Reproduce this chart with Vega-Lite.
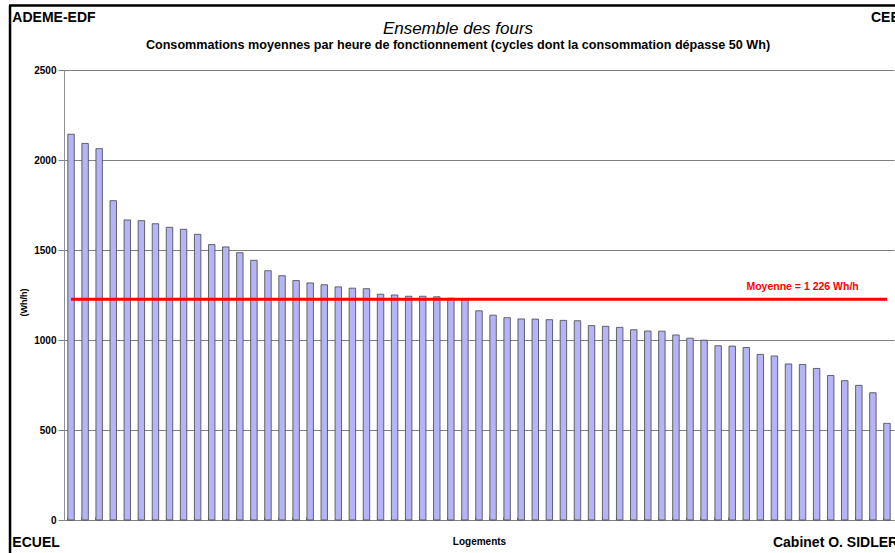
{
  "$schema": "https://vega.github.io/schema/vega-lite/v6.json",
  "width": 830,
  "height": 450,
  "autosize": {"type": "none"},
  "padding": {"left": 64, "top": 70, "right": 1, "bottom": 33},
  "background": "white",
  "config": {
    "view": {"stroke": null},
    "font": "Liberation Sans"
  },
  "title": {
    "text": "Ensemble des fours",
    "subtitle": "Consommations moyennes par heure de fonctionnement (cycles dont la consommation dépasse 50 Wh)",
    "anchor": "middle",
    "frame": "group",
    "dx": -21,
    "font": "Liberation Sans",
    "fontSize": 17,
    "fontStyle": "italic",
    "fontWeight": "normal",
    "color": "black",
    "subtitleFont": "Liberation Sans",
    "subtitleFontSize": 12.6,
    "subtitleFontWeight": "bold",
    "subtitleColor": "black",
    "subtitlePadding": 1,
    "offset": -48
  },
  "data": {
    "values": [
      {"logement": 1, "conso": 2143}, {"logement": 2, "conso": 2092}, {"logement": 3, "conso": 2063},
      {"logement": 4, "conso": 1774}, {"logement": 5, "conso": 1667}, {"logement": 6, "conso": 1663},
      {"logement": 7, "conso": 1646}, {"logement": 8, "conso": 1626}, {"logement": 9, "conso": 1615},
      {"logement": 10, "conso": 1587}, {"logement": 11, "conso": 1530}, {"logement": 12, "conso": 1517},
      {"logement": 13, "conso": 1485}, {"logement": 14, "conso": 1443}, {"logement": 15, "conso": 1385},
      {"logement": 16, "conso": 1357}, {"logement": 17, "conso": 1330}, {"logement": 18, "conso": 1317},
      {"logement": 19, "conso": 1307}, {"logement": 20, "conso": 1295}, {"logement": 21, "conso": 1288},
      {"logement": 22, "conso": 1285}, {"logement": 23, "conso": 1254}, {"logement": 24, "conso": 1250},
      {"logement": 25, "conso": 1243}, {"logement": 26, "conso": 1243}, {"logement": 27, "conso": 1240},
      {"logement": 28, "conso": 1232}, {"logement": 29, "conso": 1230}, {"logement": 30, "conso": 1162},
      {"logement": 31, "conso": 1138}, {"logement": 32, "conso": 1124}, {"logement": 33, "conso": 1117},
      {"logement": 34, "conso": 1116}, {"logement": 35, "conso": 1113}, {"logement": 36, "conso": 1109},
      {"logement": 37, "conso": 1107}, {"logement": 38, "conso": 1080}, {"logement": 39, "conso": 1076},
      {"logement": 40, "conso": 1070}, {"logement": 41, "conso": 1057}, {"logement": 42, "conso": 1050},
      {"logement": 43, "conso": 1049}, {"logement": 44, "conso": 1028}, {"logement": 45, "conso": 1010},
      {"logement": 46, "conso": 999}, {"logement": 47, "conso": 968}, {"logement": 48, "conso": 966},
      {"logement": 49, "conso": 958}, {"logement": 50, "conso": 920}, {"logement": 51, "conso": 911},
      {"logement": 52, "conso": 867}, {"logement": 53, "conso": 864}, {"logement": 54, "conso": 842},
      {"logement": 55, "conso": 803}, {"logement": 56, "conso": 774}, {"logement": 57, "conso": 748},
      {"logement": 58, "conso": 707}, {"logement": 59, "conso": 537}
    ]
  },
  "layer": [
    {
      "mark": {"type": "bar", "fill": "#b4b4f7", "stroke": "#444444", "strokeWidth": 0.8},
      "encoding": {
        "x": {
          "field": "logement",
          "type": "ordinal",
          "scale": {"paddingInner": 0.54, "paddingOuter": 0.27},
          "axis": {
            "title": "Logements",
            "titleFont": "Liberation Sans",
            "titleFontSize": 10,
            "titleFontWeight": "bold",
            "titleColor": "black",
            "titlePadding": 16,
            "labels": false,
            "ticks": true,
            "bandPosition": 0,
            "tickSize": -3,
            "tickColor": "#808080",
            "domainColor": "#808080",
            "grid": false
          }
        },
        "y": {
          "field": "conso",
          "type": "quantitative",
          "scale": {"domain": [0, 2500], "nice": false},
          "axis": {
            "title": "(Wh/h)",
            "titleFont": "Liberation Sans",
            "titleFontSize": 9,
            "titleFontWeight": "bold",
            "titleColor": "black",
            "titleX": -41,
            "titleY": 232,
            "titleBaseline": "middle",
            "values": [0, 500, 1000, 1500, 2000, 2500],
            "format": "d",
            "labelFont": "Liberation Sans",
            "labelFontSize": 10,
            "labelFontWeight": "bold",
            "labelColor": "black",
            "labelPadding": 2,
            "tickSize": 6,
            "tickColor": "#808080",
            "domainColor": "#909090",
            "gridColor": "#808080",
            "gridOpacity": 1,
            "gridWidth": 1
          }
        }
      }
    },
    {
      "data": {"values": [{"debut": 1, "fin": 59, "moyenne": 1226}]},
      "mark": {"type": "rule", "color": "#ff0000", "strokeWidth": 3},
      "encoding": {
        "x": {"field": "debut", "type": "ordinal"},
        "x2": {"field": "fin"},
        "y": {"field": "moyenne", "type": "quantitative"}
      }
    },
    {
      "data": {"values": [{"position": 53, "moyenne": 1226, "label": "Moyenne = 1 226 Wh/h"}]},
      "mark": {"type": "text", "color": "#ff0000", "font": "Liberation Sans", "fontSize": 10.5, "fontWeight": "bold", "align": "center", "baseline": "alphabetic", "dy": -9.5},
      "encoding": {
        "x": {"field": "position", "type": "ordinal"},
        "y": {"field": "moyenne", "type": "quantitative"},
        "text": {"field": "label"}
      }
    },
    {
      "data": {"values": [{"cadre": "gauche"}]},
      "mark": {"type": "rule", "color": "black", "strokeWidth": 2.5, "xOffset": -61},
      "encoding": {"x": {"datum": 1, "type": "ordinal"}, "y": {"datum": 2858, "type": "quantitative"}, "y2": {"datum": -220}}
    },
    {
      "data": {"values": [{"cadre": "haut"}]},
      "mark": {"type": "rule", "color": "black", "strokeWidth": 2.5, "xOffset": -62, "x2Offset": 12},
      "encoding": {"x": {"datum": 1, "type": "ordinal"}, "x2": {"datum": 59}, "y": {"datum": 2858, "type": "quantitative"}}
    },
    {
      "data": {"values": [{"texte": "ADEME-EDF"}]},
      "mark": {"type": "text", "font": "Liberation Sans", "fontSize": 14, "fontWeight": "bold", "color": "black", "align": "left", "baseline": "alphabetic", "dx": -58.7},
      "encoding": {"x": {"datum": 1, "type": "ordinal"}, "y": {"datum": 2768, "type": "quantitative"}, "text": {"field": "texte"}}
    },
    {
      "data": {"values": [{"texte": "CEE"}]},
      "mark": {"type": "text", "font": "Liberation Sans", "fontSize": 14, "fontWeight": "bold", "color": "black", "align": "left", "baseline": "alphabetic", "dx": -16},
      "encoding": {"x": {"datum": 59, "type": "ordinal"}, "y": {"datum": 2768, "type": "quantitative"}, "text": {"field": "texte"}}
    },
    {
      "data": {"values": [{"texte": "ECUEL"}]},
      "mark": {"type": "text", "font": "Liberation Sans", "fontSize": 14, "fontWeight": "bold", "color": "black", "align": "left", "baseline": "alphabetic", "dx": -58.7},
      "encoding": {"x": {"datum": 1, "type": "ordinal"}, "y": {"datum": -150, "type": "quantitative"}, "text": {"field": "texte"}}
    },
    {
      "data": {"values": [{"texte": "Cabinet O. SIDLER"}]},
      "mark": {"type": "text", "font": "Liberation Sans", "fontSize": 14, "fontWeight": "bold", "color": "black", "align": "left", "baseline": "alphabetic", "dx": -114},
      "encoding": {"x": {"datum": 59, "type": "ordinal"}, "y": {"datum": -150, "type": "quantitative"}, "text": {"field": "texte"}}
    }
  ]
}
